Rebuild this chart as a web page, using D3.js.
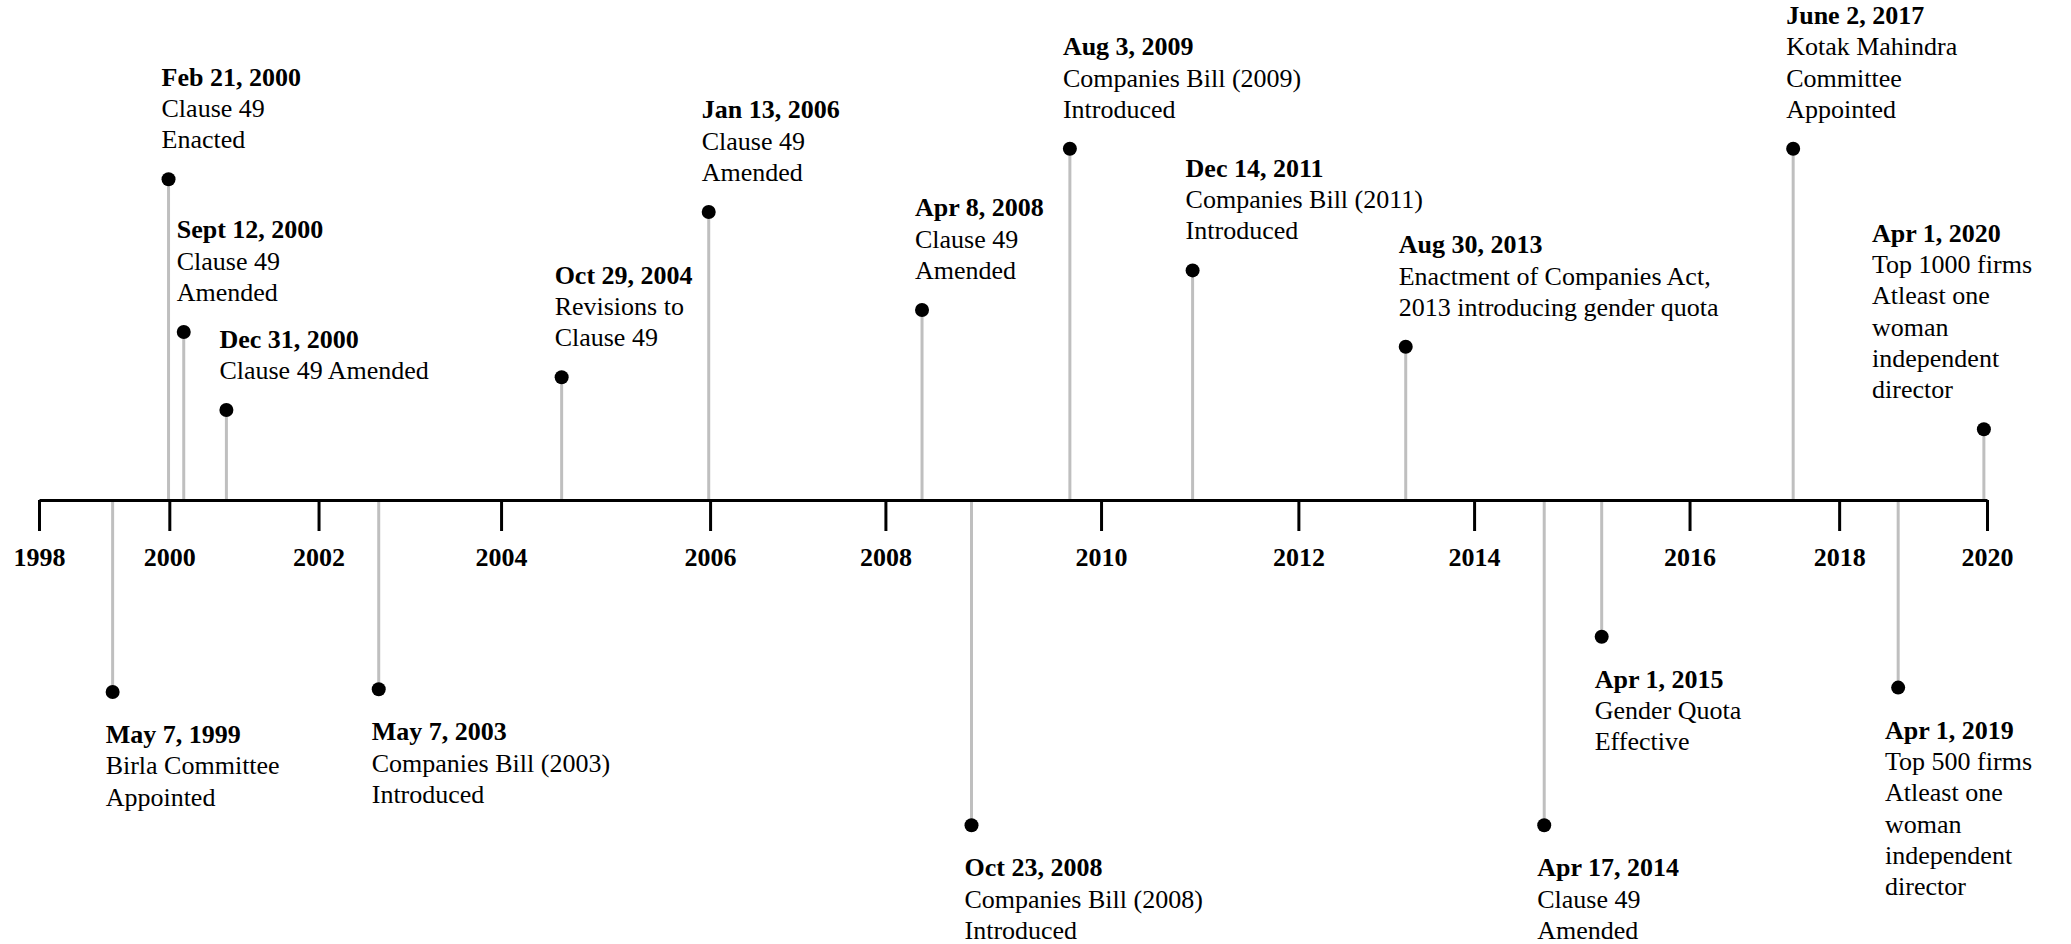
<!DOCTYPE html>
<html><head><meta charset="utf-8">
<script src="https://cdn.jsdelivr.net/npm/d3@7"></script>
<style>
html,body{margin:0;padding:0;background:#fff;}
svg{display:block;}
text{font-family:"Liberation Serif","Times New Roman",serif;fill:#000;}
</style></head><body>
<svg id="chart" width="2071" height="944"></svg>
<script>
// ---- data ----
const tickLabels = ["1998","2000","2002","2004","2006","2008","2010","2012","2014","2016","2018","2020"];
// position of each tick along the timeline (percent of axis length)
const tickPos = [0, 6.69, 14.35, 23.72, 34.45, 43.45, 54.52, 64.65, 73.67, 84.73, 92.41, 100];

const eventDates = ["May 7, 1999","Feb 21, 2000","Sept 12, 2000","Dec 31, 2000","May 7, 2003","Oct 29, 2004",
  "Jan 13, 2006","Apr 8, 2008","Oct 23, 2008","Aug 3, 2009","Dec 14, 2011","Aug 30, 2013",
  "Apr 17, 2014","Apr 1, 2015","June 2, 2017","Apr 1, 2019","Apr 1, 2020"];
const eventText = [
  ["Birla Committee","Appointed"],
  ["Clause 49","Enacted"],
  ["Clause 49","Amended"],
  ["Clause 49 Amended"],
  ["Companies Bill (2003)","Introduced"],
  ["Revisions to","Clause 49"],
  ["Clause 49","Amended"],
  ["Clause 49","Amended"],
  ["Companies Bill (2008)","Introduced"],
  ["Companies Bill (2009)","Introduced"],
  ["Companies Bill (2011)","Introduced"],
  ["Enactment of Companies Act,","2013 introducing gender quota"],
  ["Clause 49","Amended"],
  ["Gender Quota","Effective"],
  ["Kotak Mahindra","Committee","Appointed"],
  ["Top 500 firms","Atleast one","woman","independent","director"],
  ["Top 1000 firms","Atleast one","woman","independent","director"]
];
// position along the timeline (percent of axis length)
const eventPos = [3.78, 6.65, 7.43, 9.62, 17.44, 26.83, 34.38, 45.33, 47.87, 52.92, 59.22, 70.16, 77.27, 80.22, 90.05, 95.44, 99.84];
// stem height (positive = above the axis, negative = below)
const eventLevel = [-4.8, 8.02, 4.2, 2.25, -4.73, 3.07, 7.2, 4.75, -8.13, 8.78, 5.74, 3.83, -8.13, -3.42, 8.78, -4.69, 1.77];

// ---- layout ----
const W = 2071, H = 944;
const FS = 26, LH = 31.3;
const svg = d3.select("#chart");

const x = d3.scaleLinear().domain([0, 100]).range([39, 1987]);
const y = d3.scaleLinear().domain([-10, 10]).range([900, 100]);

const events = eventDates.map((d, i) => ({date: d, lines: eventText[i], pos: eventPos[i], level: eventLevel[i]}));

// stems
svg.append("g").selectAll("line").data(events).join("line")
  .attr("x1", d => x(d.pos)).attr("x2", d => x(d.pos))
  .attr("y1", y(0)).attr("y2", d => y(d.level))
  .attr("stroke", "#bfbfbf").attr("stroke-width", 3);

// axis
const axis = d3.axisBottom(x)
  .tickValues(tickPos)
  .tickFormat((d, i) => tickLabels[i])
  .tickSize(31).tickSizeOuter(0).tickPadding(17);
const gAxis = svg.append("g").attr("transform", `translate(0,${y(0)})`).call(axis);
gAxis.select(".domain").attr("stroke", "#000").attr("stroke-width", 3);
gAxis.selectAll(".tick line").attr("stroke", "#000").attr("stroke-width", 3);
gAxis.selectAll(".tick text")
  .attr("fill", "#000")
  .style("font-family", '"Liberation Serif","Times New Roman",serif')
  .style("font-size", FS + "px").style("font-weight", "bold");

// dots
svg.append("g").selectAll("circle").data(events).join("circle")
  .attr("cx", d => x(d.pos)).attr("cy", d => y(d.level))
  .attr("r", 7).attr("fill", "#000");

// labels
const rightLimit = W - 39;
const labels = svg.append("g").selectAll("text").data(events).join("text")
  .style("font-size", FS + "px");
labels.each(function(d) {
  const t = d3.select(this);
  const all = [d.date].concat(d.lines);
  const n = all.length;
  const first = d.level > 0 ? y(d.level) - 31 - (n - 1) * LH : y(d.level) + 51;
  all.forEach((s, k) => {
    t.append("tspan").text(s)
      .attr("y", first + k * LH)
      .style("font-weight", k === 0 ? "bold" : "normal");
  });
  let w = 0;
  t.selectAll("tspan").each(function() { w = Math.max(w, this.getComputedTextLength()); });
  const lx = Math.min(x(d.pos) - 7, rightLimit - w);
  t.selectAll("tspan").attr("x", lx);
});
</script>
</body></html>
